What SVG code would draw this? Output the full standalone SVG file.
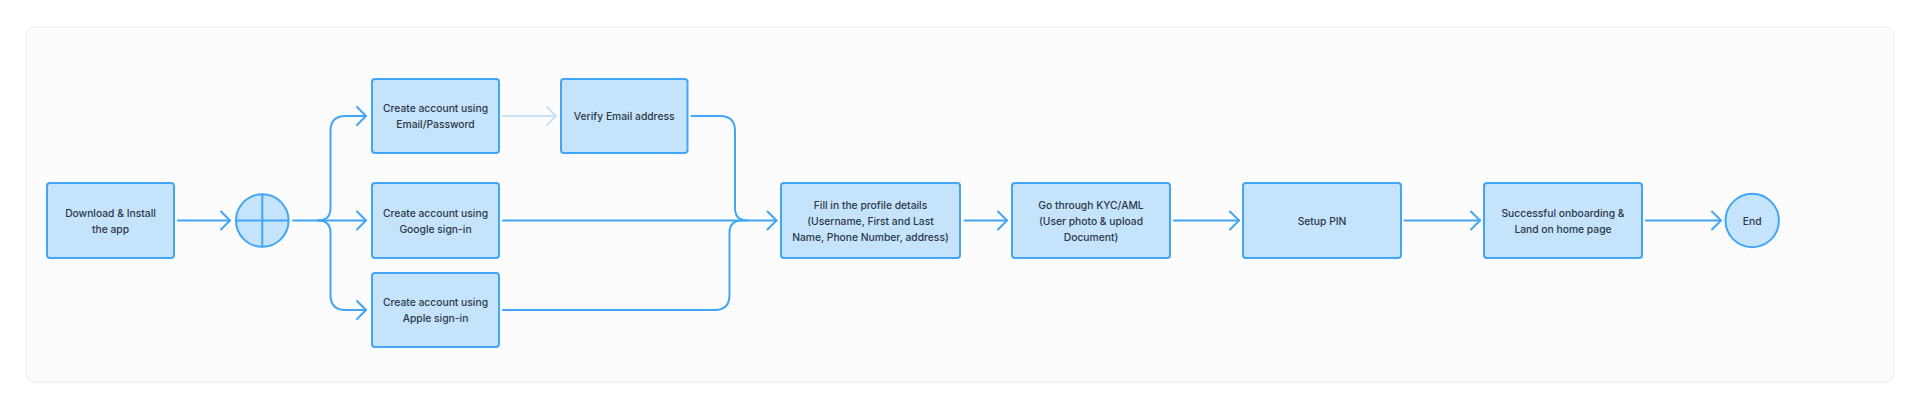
<svg xmlns="http://www.w3.org/2000/svg" width="1920" height="410" viewBox="0 0 1920 410">
<style>
.box{fill:#c5e4fb;stroke:#42a5f5;stroke-width:2}
.t{font-family:Inter,"Noto Sans",sans-serif;font-size:10.3px;font-weight:500;fill:#2b3749;text-anchor:middle;dominant-baseline:central}
.c{fill:none;stroke:#42a5f5;stroke-width:2;stroke-linecap:round;stroke-linejoin:round}
.lt{fill:none;stroke:#c8e2f8;stroke-width:2;stroke-linecap:round}
</style>
<defs>
<marker id="ah" markerUnits="userSpaceOnUse" markerWidth="20" markerHeight="24" refX="11" refY="12" orient="auto" viewBox="0 0 20 24">
<path d="M2,3 L11,12 L2,21" fill="none" stroke="#42a5f5" stroke-width="2" stroke-linecap="round" stroke-linejoin="round"/>
</marker>
<marker id="ahl" markerUnits="userSpaceOnUse" markerWidth="20" markerHeight="24" refX="11" refY="12" orient="auto" viewBox="0 0 20 24">
<path d="M2,3 L11,12 L2,21" fill="none" stroke="#c8e2f8" stroke-width="2" stroke-linecap="round" stroke-linejoin="round"/>
</marker>
</defs>
<rect x="0" y="0" width="1920" height="410" fill="#ffffff"/>
<rect x="26.5" y="27" width="1867" height="355" rx="8" fill="#fcfcfc" stroke="#ebebeb" stroke-width="1"/>
<g id="connectors">
<path class="c" d="M178,220.5 H230" marker-end="url(#ah)"/>
<path class="c" d="M293,220.5 H366" marker-end="url(#ah)"/>
<path class="c" d="M318,220.5 Q330.5,220.5 330.5,208 V131 Q330.5,116 345.5,116 H366" marker-end="url(#ah)"/>
<path class="c" d="M318,220.5 Q330.5,220.5 330.5,233 V295 Q330.5,310 345.5,310 H366" marker-end="url(#ah)"/>
<path class="lt" d="M503,116 H556" marker-end="url(#ahl)"/>
<path class="c" d="M691.5,116 H720 Q735,116 735,131 V208 Q735,220.5 747.5,220.5"/>
<path class="c" d="M503,220.5 H776.5" marker-end="url(#ah)"/>
<path class="c" d="M503,310 H714.5 Q729.5,310 729.5,295 V233 Q729.5,220.5 742,220.5"/>
<path class="c" d="M964.5,220.5 H1007" marker-end="url(#ah)"/>
<path class="c" d="M1174,220.5 H1239" marker-end="url(#ah)"/>
<path class="c" d="M1404.5,220.5 H1480" marker-end="url(#ah)"/>
<path class="c" d="M1646,220.5 H1721" marker-end="url(#ah)"/>
</g>
<g id="download">
<rect class="box" x="47" y="183" width="127" height="75" rx="3"/>
<text class="t" x="110.5" y="212.7">Download &amp; Install</text>
<text class="t" x="110.5" y="228.5">the app</text>
</g>
<g id="split">
<circle cx="262.3" cy="220.5" r="26.3" fill="#c5e4fb" stroke="#42a5f5" stroke-width="2"/>
<path d="M262.3,194.2 V246.8 M236,220.5 H288.6" stroke="#42a5f5" stroke-width="2" fill="none"/>
</g>
<g id="email">
<rect class="box" x="372" y="79" width="127" height="74" rx="3"/>
<text class="t" x="435.5" y="108.2">Create account using</text>
<text class="t" x="435.5" y="124">Email/Password</text>
</g>
<g id="google">
<rect class="box" x="372" y="183" width="127" height="75" rx="3"/>
<text class="t" x="435.5" y="212.7">Create account using</text>
<text class="t" x="435.5" y="228.5">Google sign-in</text>
</g>
<g id="apple">
<rect class="box" x="372" y="273" width="127" height="74" rx="3"/>
<text class="t" x="435.5" y="302.2">Create account using</text>
<text class="t" x="435.5" y="318">Apple sign-in</text>
</g>
<g id="verify">
<rect class="box" x="561" y="79" width="126.5" height="74" rx="3"/>
<text class="t" x="624.2" y="116">Verify Email address</text>
</g>
<g id="profile">
<rect class="box" x="781" y="183" width="179" height="75" rx="3"/>
<text class="t" x="870.5" y="205.3">Fill in the profile details</text>
<text class="t" x="870.5" y="220.8">(Username, First and Last</text>
<text class="t" x="870.5" y="236.5">Name, Phone Number, address)</text>
</g>
<g id="kyc">
<rect class="box" x="1012" y="183" width="158" height="75" rx="3"/>
<text class="t" x="1091" y="205.3">Go through KYC/AML</text>
<text class="t" x="1091" y="220.8">(User photo &amp; upload</text>
<text class="t" x="1091" y="236.5">Document)</text>
</g>
<g id="pin">
<rect class="box" x="1243" y="183" width="158" height="75" rx="3"/>
<text class="t" x="1322" y="220.5">Setup PIN</text>
</g>
<g id="success">
<rect class="box" x="1484" y="183" width="158" height="75" rx="3"/>
<text class="t" x="1563" y="212.7">Successful onboarding &amp;</text>
<text class="t" x="1563" y="228.5">Land on home page</text>
</g>
<g id="end">
<circle cx="1752.2" cy="220.5" r="26.7" fill="#c5e4fb" stroke="#42a5f5" stroke-width="2"/>
<text class="t" x="1752.2" y="220.5">End</text>
</g>
</svg>
